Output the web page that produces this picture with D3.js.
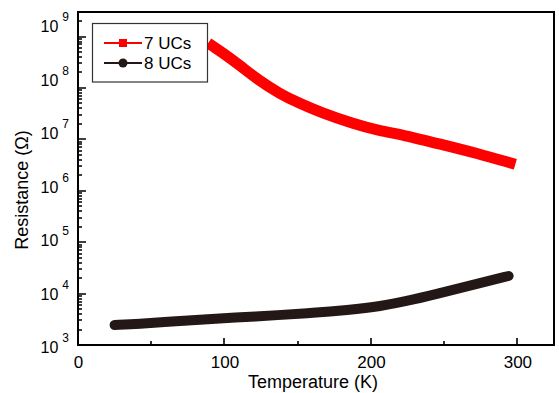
<!DOCTYPE html>
<html><head><meta charset="utf-8">
<script src="https://cdn.jsdelivr.net/npm/d3@7"></script>
<style>body{margin:0;background:#fff}svg{display:block}</style>
</head><body>
<svg id="c" width="559" height="393"></svg>
<script>
// Data
const seriesNames = ["7 UCs", "8 UCs"];
const t7 = [92, 99, 111, 122, 138, 152, 165, 188, 206, 222, 247, 274, 295];
const r7 = [6.5e8, 4.8e8, 2.68e8, 1.5e8, 7.6e7, 4.9e7, 3.4e7, 2.0e7, 1.46e7, 1.22e7, 8.1e6, 5.2e6, 3.5e6];
const t8 = [25, 42, 61, 83, 106, 138, 160, 184, 206, 229, 252, 274, 294];
const r8 = [2.45e3, 2.56e3, 2.85e3, 3.1e3, 3.4e3, 3.83e3, 4.2e3, 4.8e3, 5.6e3, 7.6e3, 1.1e4, 1.6e4, 2.2e4];
const xMajor = [0, 100, 200, 300];
const xMinor = [50, 150, 250];
const yDecades = [1e3, 1e4, 1e5, 1e6, 1e7, 1e8, 1e9];
const yExps = [3, 4, 5, 6, 7, 8, 9];

const FONT = '"Liberation Sans",Arial,sans-serif';
const svg = d3.select("#c");
const L = 78, R = 554, T = 12, B = 345;
const x = d3.scaleLinear().domain([0, 325]).range([L, R]);
const y = d3.scaleLog().domain([1e3, 3e9]).range([B, T]);
const yLab = d3.scaleLog().domain([1e3, 1e9]).range([347, 26]);

const yMinor = [];
for (let d = 3; d <= 9; d++) for (let m = 2; m <= 9; m++) { const v = m * Math.pow(10, d); if (v < 2.5e9) yMinor.push(v); }

// curves
const line = d3.line().x(d => x(d[0])).y(d => y(d[1])).curve(d3.curveBasis);
svg.append("path").datum(t7.map((v, i) => [v, r7[i]]))
  .attr("d", line).attr("fill", "none").attr("stroke", "#ff0000").attr("stroke-width", 11).attr("stroke-linecap", "square");
svg.append("path").datum(t8.map((v, i) => [v, r8[i]]))
  .attr("d", line).attr("fill", "none").attr("stroke", "#231815").attr("stroke-width", 10).attr("stroke-linecap", "round");

// inward tick marks drawn as plain paths through the scales
const tg = svg.append("g");
const xt = xMajor.filter(v => v > 0).map(v => ({ p: Math.round(x(v)), len: 7 }))
  .concat(xMinor.map(v => ({ p: Math.round(x(v)), len: 4 })));
const yt = yDecades.slice(1).map(v => ({ p: Math.round(y(v)), len: 8 }))
  .concat(yMinor.map(v => ({ p: Math.round(y(v)), len: 4 })));
let dTicks = "";
xt.forEach(t => { dTicks += `M${t.p},${B}V${B - t.len}`; });
yt.forEach(t => { dTicks += `M${L},${t.p}H${L + t.len}`; });
tg.append("path").attr("d", dTicks).attr("fill", "none").attr("stroke", "#000").attr("stroke-width", 1.6);

// x labels
const gx = svg.append("g").attr("transform", `translate(0,${B})`)
  .call(d3.axisBottom(x).tickValues(xMajor).tickSize(0).tickPadding(11).tickFormat(d3.format("d")));
gx.select(".domain").remove();
gx.selectAll(".tick line").remove();
gx.selectAll(".tick text").attr("font-size", 17).attr("fill", "#000").attr("font-family", FONT);

// y labels
const gyl = svg.append("g").attr("transform", `translate(${L},0)`)
  .call(d3.axisLeft(yLab).tickValues(yDecades).tickSize(0).tickPadding(9).tickFormat(""));
gyl.select(".domain").remove();
gyl.selectAll(".tick line").remove();
gyl.selectAll(".tick text").each(function(d, i) {
  const t = d3.select(this).attr("font-size", 16).attr("fill", "#000").attr("dy", "0.35em").attr("font-family", FONT);
  t.text("10");
  t.append("tspan").attr("dx", 4).attr("dy", -11).attr("font-size", 12).text(yExps[i]);
});

// frame
svg.append("rect").attr("x", L).attr("y", T).attr("width", R - L).attr("height", B - T)
  .attr("fill", "none").attr("stroke", "#000").attr("stroke-width", 2);

// axis titles
svg.append("text").attr("x", 313).attr("y", 388).attr("text-anchor", "middle").attr("font-size", 18).attr("font-family", FONT).text("Temperature (K)");
svg.append("text").attr("transform", "translate(28,190) rotate(-90)").attr("text-anchor", "middle").attr("font-size", 18).attr("font-family", FONT).text("Resistance (Ω)");

// legend
const lg = svg.append("g");
lg.append("rect").attr("x", 92.5).attr("y", 23.5).attr("width", 115).attr("height", 58.5)
  .attr("fill", "#fff").attr("stroke", "#333").attr("stroke-width", 1.2);
const colors = ["#ff0000", "#231815"];
seriesNames.forEach((n, i) => {
  const yy = 43 + i * 20;
  lg.append("line").attr("x1", 104).attr("x2", 142).attr("y1", yy).attr("y2", yy).attr("stroke", colors[i]).attr("stroke-width", 2);
  if (i === 0) lg.append("rect").attr("x", 119).attr("y", yy - 4).attr("width", 8).attr("height", 8).attr("fill", colors[i]);
  else lg.append("circle").attr("cx", 123).attr("cy", yy).attr("r", 4.5).attr("fill", colors[i]);
  lg.append("text").attr("x", 144).attr("y", yy + 6).attr("font-size", 17).attr("font-family", FONT).attr("fill", "#000").text(n);
});
</script>
</body></html>
